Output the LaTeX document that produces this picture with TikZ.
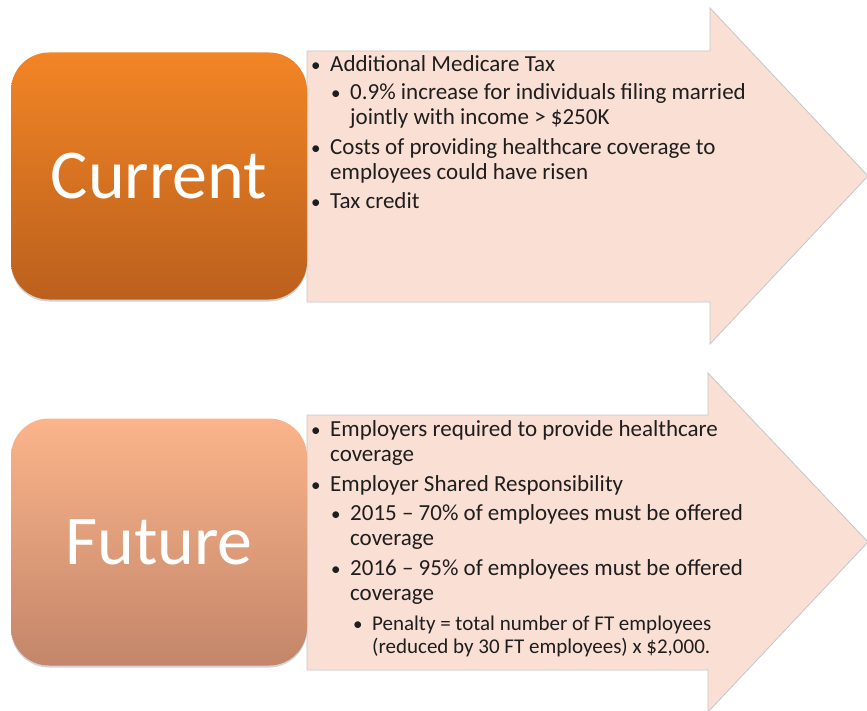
\documentclass[tikz,border=0pt]{standalone}
\usepackage{fontspec}
\setmainfont{Carlito}
\usetikzlibrary{shadows}

\definecolor{curtop}{HTML}{F28525}
\definecolor{curbot}{HTML}{BB601D}
\definecolor{futtop}{HTML}{FBB48A}
\definecolor{futbot}{HTML}{C3866A}
\definecolor{arrowfill}{HTML}{FADFD4}
\definecolor{arrowline}{HTML}{C6C6C6}
\definecolor{bodytext}{HTML}{1E1E1E}

\tikzset{
  stagebox/.style={rounded corners=38pt, minimum width=296pt, minimum height=247pt,
    inner sep=0pt, text=white, font={\fontsize{70}{84}\selectfont},
    drop shadow={opacity=0.35, shadow xshift=0pt, shadow yshift=-2pt}},
  bigarrow/.style={fill=arrowfill, draw=arrowline, line width=0.8pt},
  itemtext/.style={anchor=base west, inner sep=0pt, align=left, text=bodytext,
    font={\fontsize{23}{25}\selectfont}},
  smalltext/.style={itemtext, font={\fontsize{21}{23.3}\selectfont}},
  bul/.style={anchor=base west, inner sep=0pt, text=bodytext,
    font={\fontsize{19}{19}\selectfont}}
}

\begin{document}
\begin{tikzpicture}[x=1pt, y=-1pt]
  \useasboundingbox (0,0) rectangle (867,711);
  \clip (0,0) rectangle (867,711);

  % arrows
  \draw[bigarrow] (307,51) -- (710,51) -- (710,8) -- (868,176) -- (710,344)
    -- (710,302) -- (307,302) -- cycle;
  \draw[bigarrow] (307,415) -- (708,415) -- (708,373) -- (868,542) -- (708,712)
    -- (708,670) -- (307,670) -- cycle;

  % boxes
  \node[stagebox, top color=curtop, bottom color=curbot] (current) at (159,176) {Current};
  \node[stagebox, top color=futtop, bottom color=futbot] (future) at (159,542) {Future};

  % current (two-line nodes sit on the baseline of their last line)
  \node[bul] (cb1) at (311,71.7) {•};
  \node[itemtext] (ct1) at (330,71.7) {Additional Medicare Tax};
  \node[bul] (cb2) at (331,100) {•};
  \node[itemtext] (ct2) at (350,125) {0.9\% increase for individuals filing married\\jointly with income > \$250K};
  \node[bul] (cb3) at (311,155) {•};
  \node[itemtext] (ct3) at (330,180) {Costs of providing healthcare coverage to\\employees could have risen};
  \node[bul] (cb4) at (311,208.3) {•};
  \node[itemtext] (ct4) at (330,208.3) {Tax credit};

  % future
  \node[bul] (fb1) at (311,436.7) {•};
  \node[itemtext] (ft1) at (330,461.7) {Employers required to provide healthcare\\coverage};
  \node[bul] (fb2) at (311,491.7) {•};
  \node[itemtext] (ft2) at (330,491.7) {Employer Shared Responsibility};
  \node[bul] (fb3) at (331,520) {•};
  \node[itemtext] (ft3) at (350,545) {2015 -- 70\% of employees must be offered\\coverage};
  \node[bul] (fb4) at (331,575) {•};
  \node[itemtext] (ft4) at (350,600) {2016 -- 95\% of employees must be offered\\coverage};
  \node[bul] (fb5) at (353,630) {•};
  \node[smalltext] (ft5) at (372,653.3) {Penalty = total number of FT employees\\(reduced by 30 FT employees) x \$2,000.};
\end{tikzpicture}
\end{document}
